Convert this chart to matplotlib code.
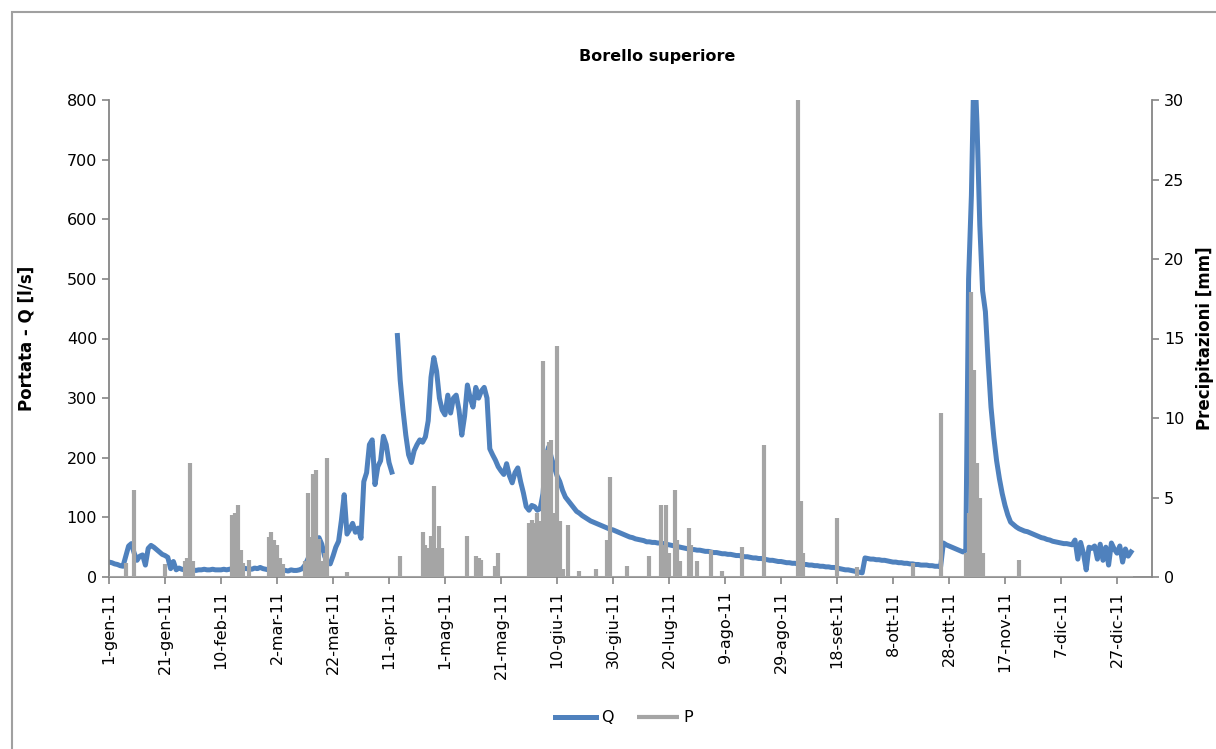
import numpy as np
import matplotlib.pyplot as plt
from matplotlib.patches import Rectangle

# giorni di tick (ogni 20 giorni dal 1 gennaio 2011) ed etichette
giorni_tick = [0, 20, 40, 60, 80, 100, 120, 140, 160, 180, 200, 220, 240, 260, 280, 300, 320, 340, 360]
etichette_tick = ["1-gen-11", "21-gen-11", "10-feb-11", "2-mar-11", "22-mar-11", "11-apr-11",
                  "1-mag-11", "21-mag-11", "10-giu-11", "30-giu-11", "20-lug-11", "9-ago-11",
                  "29-ago-11", "18-set-11", "8-ott-11", "28-ott-11", "17-nov-11", "7-dic-11",
                  "27-dic-11"]

# Portata Q [l/s], un valore al giorno
portata_q = [
    25, 24, 22, 21, 19, 18, 35, 52, 56, 40,
    28, 35, 37, 20, 48, 53, 50, 46, 42, 38,
    36, 33, 14, 26, 12, 15, 13, 12, 11, 11,
    12, 11, 12, 12, 13, 12, 12, 13, 12, 12,
    12, 13, 12, 13, 14, 13, 14, 13, 15, 14,
    14, 13, 15, 14, 16, 14, 13, 12, 13, 11,
    10, 10, 12, 11, 10, 12, 11, 11, 12, 14,
    20, 30, 40, 50, 60, 66, 55, 35, 24, 22,
    35, 50, 60, 95, 138, 72, 80, 90, 75, 82,
    65, 160, 175, 222, 230, 155, 185, 195, 236, 222,
    192, 176, np.nan, 405, 330, 280, 238, 205, 192, 212,
    222, 230, 226, 235, 262, 335, 368, 345, 300, 280,
    272, 305, 275, 300, 305, 280, 238, 270, 322, 300,
    285, 318, 300, 312, 318, 300, 215, 205, 196, 185,
    178, 172, 190, 170, 158, 175, 183, 160, 141, 118,
    112, 120, 118, 112, 115, 140, 200, 218, 200, 185,
    170, 160, 145, 134, 128, 122, 116, 110, 107, 103,
    100, 97, 94, 92, 90, 88, 86, 84, 82, 80,
    79, 77, 75, 73, 71, 69, 67, 66, 64, 63,
    62, 61, 59, 59, 58, 58, 57, 57, 56, 55,
    54, 53, 52, 51, 50, 49, 48, 47, 46, 46,
    45, 45, 44, 43, 43, 42, 41, 41, 40, 39,
    39, 38, 38, 37, 36, 36, 35, 34, 34, 33,
    32, 32, 31, 31, 30, 29, 28, 28, 27, 26,
    26, 25, 24, 24, 23, 23, 22, 22, 21, 21,
    20, 20, 19, 19, 18, 18, 17, 17, 16, 16,
    15, 14, 13, 12, 12, 11, 10, 9, 8, 7,
    32, 31, 30, 30, 29, 29, 28, 28, 27, 26,
    25, 25, 24, 24, 23, 23, 22, 22, 21, 21,
    20, 20, 20, 19, 19, 18, 18, 17, 57, 54,
    52, 50, 48, 46, 44, 42, 45, 500, 640, 880,
    760, 590, 480, 445, 360, 285, 235, 195, 165, 140,
    120, 104, 92, 88, 84, 81, 79, 77, 76, 74,
    72, 70, 68, 66, 65, 63, 62, 60, 59, 58,
    57, 56, 56, 55, 54, 62, 30, 58, 40, 12,
    50, 48, 52, 30, 55, 28, 50, 20, 57, 47,
    40, 52, 25, 47, 35, 42,
]

# Precipitazioni P [mm]: giorni con pioggia e valore
pioggia_giorni = [6, 9, 20, 27, 28, 29, 30, 44, 45, 46, 47, 48, 50,
                  57, 58, 59, 60, 61, 62, 70, 71, 72, 73, 74, 75, 76, 77, 78, 85,
                  104, 112, 113, 114, 115, 116, 117, 118, 119, 128, 131, 132, 133, 138, 139,
                  150, 151, 152, 153, 154, 155, 156, 157, 158, 159, 160, 161, 162, 164,
                  168, 174, 178, 179, 185, 193, 197, 198, 199, 200, 202, 203, 204, 207, 208,
                  210, 215, 219, 226, 234, 246, 247, 248, 260, 267, 287, 297,
                  306, 307, 308, 309, 310, 311, 312, 325]
pioggia_mm = [0.9, 5.5, 0.8, 1.0, 1.2, 7.2, 1.0, 3.9, 4.0, 4.5, 1.7, 0.9, 1.1,
              2.5, 2.8, 2.3, 2.0, 1.2, 0.8, 1.0, 5.3, 2.5, 6.5, 6.7, 2.4, 1.0, 1.5, 7.5, 0.3,
              1.3, 2.8, 2.0, 1.8, 2.6, 5.7, 1.8, 3.2, 1.8, 2.6, 1.3, 1.2, 1.1, 0.7, 1.5,
              3.4, 3.6, 3.4, 4.0, 3.5, 13.6, 8.0, 8.5, 8.6, 4.0, 14.5, 3.5, 0.5, 3.3,
              0.4, 0.5, 2.3, 6.3, 0.7, 1.3, 4.5, 2.0, 4.5, 1.5, 5.5, 2.3, 1.0, 3.1, 2.0,
              1.0, 1.7, 0.4, 1.9, 8.3, 31.0, 4.8, 1.5, 3.7, 0.6, 0.9, 10.3,
              1.5, 4.0, 17.9, 13.0, 7.2, 5.0, 1.5, 1.1]

blu = "#4F81BD"
grigio = "#A5A5A5"
assi = "#868686"

q = np.array(portata_q, dtype=float)
giorni = np.arange(len(q))

fig = plt.figure(figsize=(12.16, 7.49), dpi=100)
ax = fig.add_axes([109 / 1216, 1 - 577 / 749, (1152 - 109) / 1216, (577 - 100) / 749])
ax2 = ax.twinx()

ax.plot(giorni, q, color=blu, lw=3.6, solid_joinstyle="round", label="Q")
# P: una linea verticale per ogni giorno di pioggia, sopra la portata
ax2.plot([0, len(q) - 1], [0, 0], color=grigio, lw=2.2)
ax2.vlines(pioggia_giorni, 0, pioggia_mm, color=grigio, lw=3.0, label="P")

ax.set_xlim(0, 372.5)
ax.set_ylim(0, 800)
ax2.set_ylim(0, 30)
ax.set_yticks(range(0, 801, 100))
ax2.set_yticks(range(0, 31, 5))
ax.set_xticks(giorni_tick)
ax.set_xticklabels(etichette_tick, rotation=90, fontsize=11.5)

for a in (ax, ax2):
    a.spines["top"].set_visible(False)
    for s in a.spines.values():
        s.set_color(assi)
        s.set_linewidth(1.3)
    a.tick_params(colors=assi, labelcolor="black", length=5, width=1.2, labelsize=11.5)
ax.tick_params(axis="x", pad=5)
ax.spines["right"].set_visible(False)
ax2.spines["left"].set_visible(False)
ax2.spines["bottom"].set_visible(False)

ax.set_ylabel("Portata - Q [l/s]", fontsize=12, fontweight="bold")
ax.yaxis.set_label_coords(-0.070, 0.5)
fig.text(1205 / 1216, 1 - 338 / 749, "Precipitazioni [mm]", rotation=90, fontsize=12,
         fontweight="bold", ha="center", va="center")
fig.text(657 / 1216, 1 - 57 / 749, "Borello superiore", fontsize=11.5, fontweight="bold",
         ha="center", va="center")

h1, l1 = ax.get_legend_handles_labels()
h2, l2 = ax2.get_legend_handles_labels()
fig.legend(h1 + h2, l1 + l2, loc="center", bbox_to_anchor=(624 / 1216, 1 - 718 / 749), ncol=2,
           frameon=False, fontsize=11.5, handlelength=2.6, columnspacing=1.5, handletextpad=0.3)

# cornice dell'area del grafico
fig.patches.append(Rectangle((12 / 1216, -0.05), 1.1, 1 - 12 / 749 + 0.05, transform=fig.transFigure,
                             fill=False, edgecolor="#A0A0A0", lw=1.5))

fig.savefig("out.png", dpi=100)
